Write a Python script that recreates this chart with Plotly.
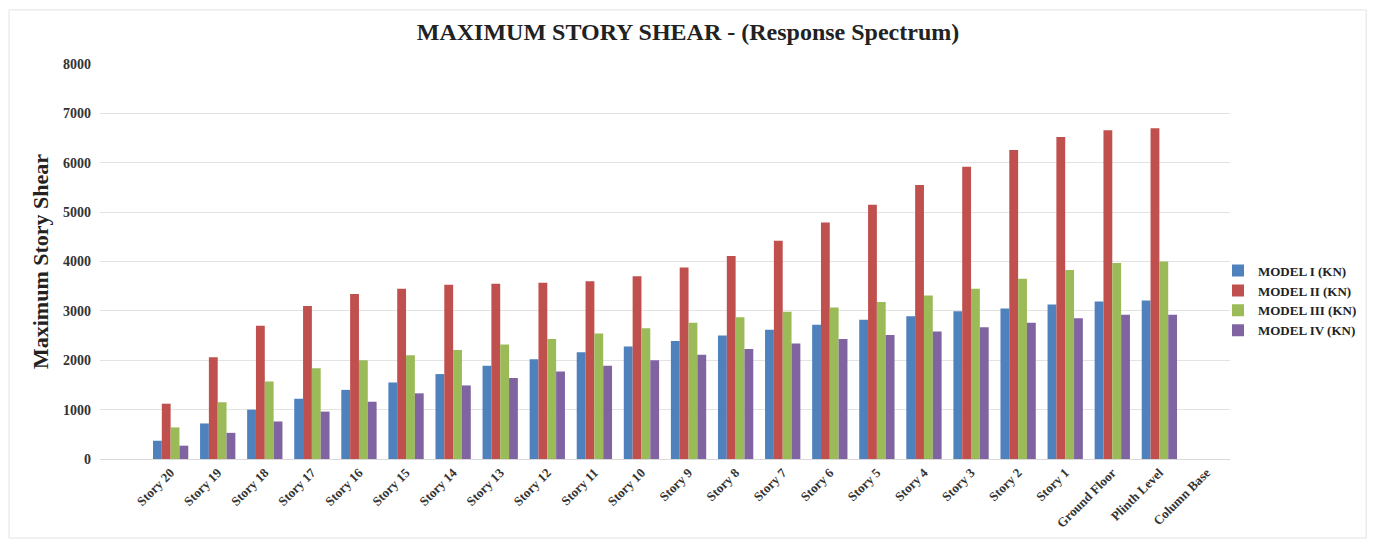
import plotly.graph_objects as go

categories = ["Story 20", "Story 19", "Story 18", "Story 17", "Story 16", "Story 15",
              "Story 14", "Story 13", "Story 12", "Story 11", "Story 10", "Story 9",
              "Story 8", "Story 7", "Story 6", "Story 5", "Story 4", "Story 3",
              "Story 2", "Story 1", "Ground Floor", "Plinth Level", "Column Base"]

model_1 = [370, 720, 1000, 1220, 1400, 1550, 1720, 1890, 2020, 2160, 2280, 2390,
           2500, 2620, 2720, 2820, 2890, 2990, 3050, 3130, 3190, 3210, None]
model_2 = [1120, 2060, 2700, 3100, 3340, 3450, 3530, 3550, 3570, 3600, 3700, 3880,
           4110, 4420, 4790, 5150, 5550, 5920, 6260, 6520, 6660, 6700, None]
model_3 = [640, 1150, 1570, 1840, 2000, 2100, 2210, 2320, 2430, 2540, 2650, 2760,
           2870, 2980, 3070, 3180, 3310, 3450, 3650, 3830, 3970, 4000, None]
model_4 = [270, 530, 760, 960, 1160, 1330, 1490, 1640, 1770, 1890, 2000, 2110,
           2230, 2340, 2430, 2510, 2580, 2670, 2760, 2850, 2920, 2920, None]

series_names = ["MODEL I (KN)", "MODEL II (KN)", "MODEL III (KN)", "MODEL IV (KN)"]
series_values = [model_1, model_2, model_3, model_4]
colors = ["#4F81BD", "#C0504D", "#9BBB59", "#8064A2"]

serif = "Liberation Serif, Times New Roman, serif"

fig = go.Figure()
for name, vals, col in zip(series_names, series_values, colors):
    fig.add_trace(go.Bar(x=categories, y=vals, name=name, marker_color=col,
                         marker_line_width=0))

# page body has an 8px margin, so the figure is sized to fit inside the window
fig.update_layout(
    width=1360, height=532,
    paper_bgcolor="white", plot_bgcolor="white",
    barmode="group", bargap=0.25, bargroupgap=0,
    margin=dict(l=92, r=138, t=56, b=81, autoexpand=False),
    title=dict(text="<b>MAXIMUM STORY SHEAR - (Response Spectrum)</b>",
               x=0.5, xanchor="center", y=0.955, yanchor="middle",
               font=dict(family=serif, size=24, color="#222222")),
    legend=dict(xref="container", yref="container", x=0.8897, xanchor="left",
                y=0.450, yanchor="middle",
                font=dict(family=serif, size=13, color="#222222", weight="bold"),
                itemwidth=30, tracegroupgap=0, bgcolor="rgba(0,0,0,0)"),
    showlegend=True,
)

fig.update_xaxes(type="category", range=[-1.5, 22.5], showgrid=False,
                 showline=True, linecolor="#D9D9D9", ticks="",
                 tickangle=-45,
                 tickfont=dict(family=serif, size=13, color="#333333", weight="bold"))
fig.update_yaxes(range=[0, 8000], dtick=1000, tickformat="d",
                 showgrid=True, gridcolor="#E3E3E3", gridwidth=1,
                 zeroline=False, showline=False, ticks="",
                 ticklabelstandoff=8,
                 tickfont=dict(family=serif, size=14, color="#333333", weight="bold"),
                 title=dict(text="<b>Maximum Story Shear</b>",
                            font=dict(family=serif, size=22, color="#222222"),
                            standoff=8))

fig.add_shape(type="rect", xref="paper", yref="paper", x0=-0.0805, x1=1.1205,
              y0=-0.2, y1=1.137, line=dict(color="#E3E3E3", width=1), layer="below")

fig.write_html("out.html")
